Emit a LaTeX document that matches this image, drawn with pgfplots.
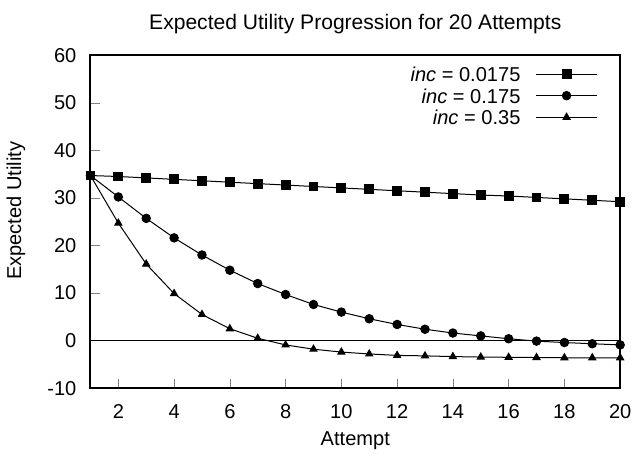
\documentclass[border=0pt]{standalone}
\usepackage{fontspec}
\setmainfont{Liberation Sans}
\usepackage{pgfplots}
\pgfplotsset{compat=1.18}
\begin{document}
\fontsize{10}{12}\selectfont
\begin{tikzpicture}
\begin{axis}[
    scale only axis,
    width=264pt, height=166pt,
    xmin=1, xmax=20,
    ymin=-10, ymax=60,
    xtick={2,4,...,20},
    ytick={-10,0,...,60},
    tick pos=left,
    tick align=inside,
    major tick length=4.75pt,
    axis line style={line width=1pt},
    /pgf/number format/assume math mode=true,
    xticklabel style={yshift=-4.5pt},
    yticklabel style={xshift=-3.5pt},
    title={Expected Utility Progression for 20 Attempts},
    title style={at={(axis description cs:0.5,1)}, anchor=base, yshift=7pt, font=\fontsize{10.5}{12}\selectfont},
    xlabel={Attempt},
    xlabel style={at={(axis description cs:0.5,0)}, anchor=base, yshift=-28.5pt},
    ylabel={Expected Utility},
    ylabel style={at={(axis description cs:-0.1307,0.533)}, anchor=base},
    legend plot pos=right,
    legend cell align=right,
    legend image code/.code={\draw[mark repeat=2,mark phase=2,#1] plot coordinates {(0pt,0pt) (15.25pt,0pt) (30.5pt,0pt)};},
    legend style={draw=none, fill=none, at={(axis description cs:1,1)}, anchor=north east,
        xshift=-11pt, yshift=-5.5pt, inner sep=0pt, row sep=3.25pt, column sep=7.5pt,
        nodes={inner sep=0pt, text height=7.5pt, text depth=0pt}},
]
% zero line
\addplot[black, line width=0.5pt, forget plot] coordinates {(1,0) (20,0)};

\addplot[black, line width=0.5pt, mark=square*, mark size=2.2pt] coordinates {
  (1,34.7) (2,34.5) (3,34.2) (4,33.9) (5,33.6) (6,33.3) (7,33.0) (8,32.7) (9,32.4) (10,32.1)
  (11,31.8) (12,31.5) (13,31.2) (14,30.9) (15,30.6) (16,30.4) (17,30.1) (18,29.8) (19,29.5) (20,29.2)
};
\addlegendentry{\textit{inc} = 0.0175}

\addplot[black, line width=0.5pt, mark=*, mark size=2.1pt] coordinates {
  (1,34.7) (2,30.2) (3,25.7) (4,21.6) (5,18.0) (6,14.8) (7,12.0) (8,9.7) (9,7.6) (10,6.0)
  (11,4.6) (12,3.4) (13,2.4) (14,1.6) (15,1.0) (16,0.4) (17,-0.1) (18,-0.4) (19,-0.65) (20,-0.9)
};
\addlegendentry{\textit{inc} = 0.175}

\addplot[black, line width=0.5pt, mark=triangle*, mark size=2pt] coordinates {
  (1,34.7) (2,24.7) (3,16.1) (4,9.9) (5,5.5) (6,2.5) (7,0.5) (8,-0.9) (9,-1.8) (10,-2.4)
  (11,-2.8) (12,-3.1) (13,-3.2) (14,-3.35) (15,-3.45) (16,-3.5) (17,-3.55) (18,-3.6) (19,-3.6) (20,-3.6)
};
\addlegendentry{\textit{inc} = 0.35}
\end{axis}
% blank room above the title, as in the reference
\path ([yshift=27.5pt]current axis.north);
\end{tikzpicture}
\end{document}
